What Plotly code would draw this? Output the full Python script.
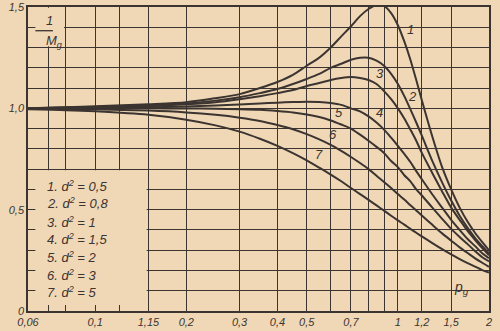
import math
import plotly.graph_objects as go

# ---- data ----
p_g = [0.06, 0.08, 0.1, 0.15, 0.2, 0.25, 0.3, 0.35, 0.4, 0.45, 0.5, 0.55, 0.6, 0.65,
       0.7, 0.75, 0.8, 0.85, 0.9, 0.95, 1.0, 1.05, 1.1, 1.15, 1.2, 1.3, 1.4, 1.5,
       1.6, 1.7, 1.8, 1.9, 2.0]

curve1 = [1.00, 1.005, 1.01, 1.02, 1.03, 1.05, 1.07, 1.10, 1.13, 1.165, 1.21, 1.25, 1.30,
          1.355, 1.405, 1.455, 1.49, 1.51, 1.505, 1.47, 1.41, 1.33, 1.24, 1.14, 1.04,
          0.86, 0.71, 0.60, 0.51, 0.44, 0.385, 0.34, 0.30]
curve2 = [1.00, 1.004, 1.006, 1.014, 1.024, 1.038, 1.055, 1.075, 1.095, 1.12, 1.145, 1.17,
          1.20, 1.22, 1.24, 1.25, 1.25, 1.235, 1.21, 1.17, 1.12, 1.06, 0.995, 0.93, 0.865,
          0.74, 0.635, 0.545, 0.47, 0.41, 0.36, 0.32, 0.285]
curve3 = [1.00, 1.003, 1.005, 1.011, 1.02, 1.03, 1.045, 1.06, 1.075, 1.09, 1.11, 1.125,
          1.14, 1.15, 1.155, 1.15, 1.14, 1.12, 1.085, 1.045, 1.00, 0.95, 0.895, 0.84, 0.78,
          0.68, 0.59, 0.51, 0.45, 0.395, 0.35, 0.31, 0.275]
curve4 = [1.00, 1.001, 1.002, 1.005, 1.009, 1.014, 1.019, 1.024, 1.028, 1.031, 1.033, 1.031,
          1.026, 1.017, 1.00, 0.985, 0.96, 0.93, 0.895, 0.855, 0.815, 0.775, 0.735, 0.69,
          0.65, 0.575, 0.51, 0.45, 0.40, 0.355, 0.32, 0.285, 0.26]
curve5 = [1.00, 1.00, 1.00, 1.00, 0.999, 0.998, 0.996, 0.993, 0.987, 0.98, 0.97, 0.957,
          0.94, 0.92, 0.90, 0.87, 0.84, 0.81, 0.78, 0.74, 0.71, 0.67, 0.64, 0.60, 0.57,
          0.51, 0.455, 0.405, 0.365, 0.33, 0.295, 0.265, 0.245]
curve6 = [0.998, 0.997, 0.995, 0.989, 0.98, 0.968, 0.954, 0.938, 0.918, 0.897, 0.873,
          0.847, 0.82, 0.79, 0.76, 0.73, 0.70, 0.667, 0.637, 0.607, 0.577, 0.55, 0.522,
          0.496, 0.471, 0.425, 0.383, 0.347, 0.314, 0.286, 0.26, 0.238, 0.218]
curve7 = [0.995, 0.991, 0.985, 0.968, 0.944, 0.916, 0.885, 0.85, 0.815, 0.779, 0.743,
          0.707, 0.673, 0.64, 0.607, 0.577, 0.548, 0.521, 0.495, 0.47, 0.447, 0.426,
          0.405, 0.386, 0.368, 0.335, 0.305, 0.279, 0.256, 0.236, 0.219, 0.202, 0.19]

curves = [curve1, curve2, curve3, curve4, curve5, curve6, curve7]
curve_names = ["1", "2", "3", "4", "5", "6", "7"]
legend_lines = ["1. d<sup>2</sup> = 0,5", "2. d<sup>2</sup> = 0,8", "3. d<sup>2</sup> = 1",
                "4. d<sup>2</sup> = 1,5", "5. d<sup>2</sup> = 2", "6. d<sup>2</sup> = 3",
                "7. d<sup>2</sup> = 5"]
legend_y = [0.619, 0.535, 0.441, 0.356, 0.267, 0.178, 0.094]
# curve number label positions (x value, y value)
label_pos = [(1.10, 1.39), (1.12, 1.06), (0.87, 1.17), (0.87, 0.98),
             (0.64, 0.98), (0.61, 0.87), (0.55, 0.77)]

x_tickvals = [0.06, 0.07, 0.08, 0.1, 0.12, 0.15, 0.2, 0.3, 0.4, 0.5, 0.6, 0.7, 0.8, 0.9,
              1, 1.2, 1.5, 2]
x_ticktext = ["0,06", " ", " ", "0,1", " ", "1,15", "0,2", "0,3", "0,4", "0,5", " ", "0,7",
              " ", " ", "1", "1,2", "1,5", "2"]
y_tickvals = [round(0.1 * i, 1) for i in range(16)]
y_ticktext = {0.0: "0", 0.5: "0,5", 1.0: "1,0", 1.5: "1,5"}

# ---- style ----
BG = "#f0d8b6"
INK = "#3b3431"
FONT = "Liberation Sans"
XMIN, XMAX = 0.06, 2.0


def xpaper(v):
    return math.log10(v / XMIN) / math.log10(XMAX / XMIN)


fig = go.Figure()
for ys, name in zip(curves, curve_names):
    fig.add_trace(go.Scatter(x=p_g, y=ys, mode="lines", name=name,
                             line=dict(color=INK, width=2, shape="spline", smoothing=0.8),
                             showlegend=False, hoverinfo="skip"))

annotations = []
for name, (lx, ly) in zip(curve_names, label_pos):
    annotations.append(dict(x=math.log10(lx), y=ly, xref="x", yref="y",
                            text="<i>%s</i>" % name, showarrow=False,
                            font=dict(family=FONT, size=13, color=INK)))
for txt, ly in zip(legend_lines, legend_y):
    annotations.append(dict(x=0.037, y=ly, xref="paper", yref="y", xanchor="left",
                            yanchor="middle", text="<i>%s</i>" % txt, showarrow=False,
                            font=dict(family=FONT, size=13, color=INK)))
# 1/Mg axis title and p_g title
annotations.append(dict(x=0.035, y=0.955, xref="paper", yref="paper", text="<i>1</i>",
                        showarrow=False, yanchor="middle",
                        font=dict(family=FONT, size=13, color=INK)))
annotations.append(dict(x=0.035, y=0.885, xref="paper", yref="paper", yanchor="middle",
                        text="<i>M<sub>g</sub></i>", showarrow=False,
                        font=dict(family=FONT, size=13, color=INK)))
annotations.append(dict(x=0.962, y=0.04, xref="paper", yref="paper",
                        text="<i>p<sub>g</sub></i>", showarrow=False,
                        font=dict(family=FONT, size=14, color=INK)))

shapes = [
    # blank area behind the key (leaves the short axis ticks visible)
    dict(type="rect", xref="paper", yref="y", x0=0.016, x1=xpaper(0.15) - 0.004,
         y0=0.03, y1=0.694, fillcolor=BG, line=dict(width=0), layer="above"),
    dict(type="rect", xref="paper", yref="y", x0=0.004, x1=0.016,
         y0=0.03, y1=0.694, fillcolor="rgba(0,0,0,0)", line=dict(width=0), layer="above"),
    # blank area behind the 1/Mg title
    dict(type="rect", xref="paper", yref="y", x0=0.016, x1=xpaper(0.08) - 0.004,
         y0=1.306, y1=1.496, fillcolor=BG, line=dict(width=0), layer="above"),
    # fraction bar
    dict(type="line", xref="paper", yref="paper", x0=0.016, x1=0.054, y0=0.922, y1=0.922,
         line=dict(color=INK, width=1.3)),
]

fig.update_layout(
    width=500, height=331,
    margin=dict(l=28, r=11, t=7, b=20, autoexpand=False),
    paper_bgcolor=BG, plot_bgcolor=BG,
    annotations=annotations, shapes=shapes,
    font=dict(family=FONT, color=INK),
)
fig.update_xaxes(type="log", range=[math.log10(XMIN), math.log10(XMAX)],
                 tickvals=x_tickvals, ticktext=["<i>%s</i>" % t for t in x_ticktext],
                 tickfont=dict(family=FONT, size=11, color=INK),
                 showgrid=True, gridcolor=INK, gridwidth=1.3, automargin=False,
                 showline=True, linecolor=INK, linewidth=1.6, mirror=True,
                 ticks="inside", ticklen=5, tickcolor=INK, zeroline=False)
fig.update_yaxes(range=[0, 1.5], tickvals=y_tickvals,
                 ticktext=["<i>%s</i>" % y_ticktext.get(v, " ") for v in y_tickvals],
                 tickfont=dict(family=FONT, size=11, color=INK),
                 showgrid=True, gridcolor=INK, gridwidth=1.3, automargin=False,
                 showline=True, linecolor=INK, linewidth=1.6, mirror=True,
                 ticks="inside", ticklen=6, tickcolor=INK, zeroline=False)

fig.write_html("out.html")
